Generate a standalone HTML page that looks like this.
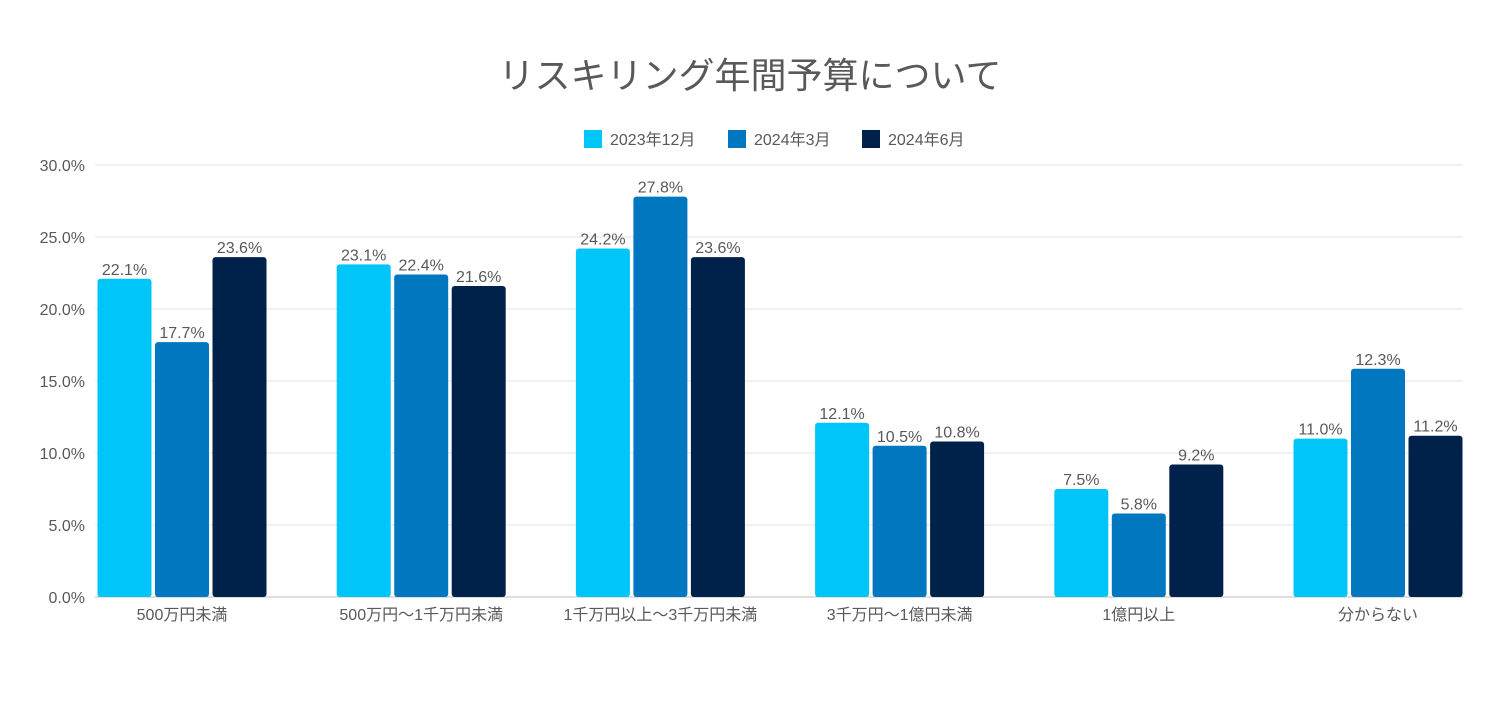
<!DOCTYPE html>
<html><head><meta charset="utf-8"><style>
body{margin:0;background:#fff;}
text{font-family:"Liberation Sans","Noto Sans CJK JP",sans-serif;}
</style></head><body>
<svg id="c" width="1500" height="700" xmlns="http://www.w3.org/2000/svg"></svg>
<script>
const categories=["500万円未満","500万円〜1千万円未満","1千万円以上〜3千万円未満","3千万円〜1億円未満","1億円以上","分からない"];
const seriesNames=["2023年12月","2024年3月","2024年6月"];
const s2023Dec=[22.1,23.1,24.2,12.1,7.5,11.0];
const s2024Mar=[17.7,22.4,27.8,10.5,5.8,15.85];
const s2024Jun=[23.6,21.6,23.6,10.8,9.2,11.2];
const labels2023Dec=["22.1%","23.1%","24.2%","12.1%","7.5%","11.0%"];
const labels2024Mar=["17.7%","22.4%","27.8%","10.5%","5.8%","12.3%"];
const labels2024Jun=["23.6%","21.6%","23.6%","10.8%","9.2%","11.2%"];
const yTicks=[0,5,10,15,20,25,30];
const colors=["#00c5f8","#0077be","#00214a"];
const svg=document.getElementById('c');const NS="http://www.w3.org/2000/svg";
function mk(t,a,txt){const e=document.createElementNS(NS,t);for(const k in a)e.setAttribute(k,a[k]);if(txt!=null)e.textContent=txt;svg.appendChild(e);return e;}
const y=v=>597-v*14.4;
const xc=i=>182+i*239.2;
let e=mk('text',{x:750,y:88,'text-anchor':'middle','font-size':36,fill:'#595959'},'リスキリング年間予算について');


yTicks.forEach(t=>{
 let g=mk('line',{x1:95,x2:1463,y1:y(t),y2:y(t),stroke:t===0?'#bfbfbf':'#e3e3e3','stroke-width':1});
 
 
 let l=mk('text',{x:85,y:y(t)+6,'text-anchor':'end','font-size':16,fill:'#595959'},t.toFixed(1)+'%');
 
 
});
const lx=[584,728,862];
seriesNames.forEach((n,j)=>{
 let r=mk('rect',{x:lx[j],y:130,width:18,height:18,fill:colors[j]});
 
 
 let t=mk('text',{x:lx[j]+26,y:145,'font-size':16,fill:'#595959'},n);
 
 
});
const series=[s2023Dec,s2024Mar,s2024Jun];const labs=[labels2023Dec,labels2024Mar,labels2024Jun];
categories.forEach((c,i)=>{
 series.forEach((s,j)=>{
  const x=xc(i)-84.5+j*57.5;
  let b=mk('rect',{x:x,y:y(s[i]),width:54,height:597-y(s[i]),fill:colors[j],rx:3});
  
  
  let t=mk('text',{x:x+27,y:y(s[i])-4,'text-anchor':'middle','font-size':16,fill:'#595959'},labs[j][i]);
  
  
 });
 let cl=mk('text',{x:xc(i),y:620,'text-anchor':'middle','font-size':16,fill:'#595959'},c);
 
 
});
</script>
</body></html>
